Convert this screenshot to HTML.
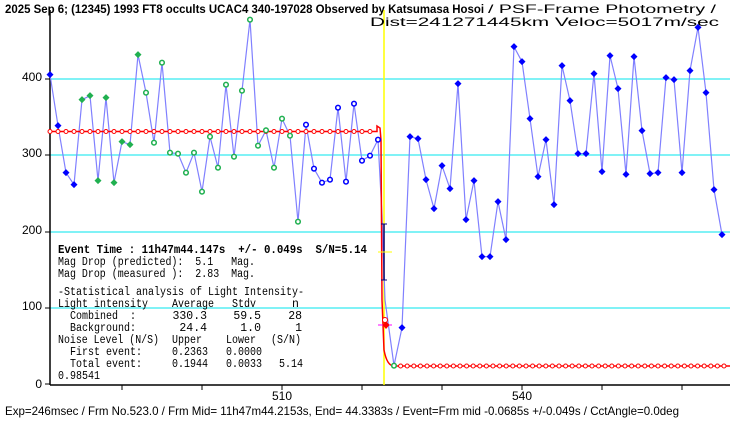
<!DOCTYPE html>
<html><head><meta charset="utf-8"><style>
html,body{margin:0;padding:0;background:#fff;}
svg{display:block;}
text{font-family:"Liberation Sans","Noto Sans CJK JP",sans-serif;font-size:12px;fill:#000;}
.m{font-family:"Liberation Mono",monospace;font-size:11.5px;}
</style></head><body>
<svg id="s" width="740" height="425" viewBox="0 0 740 425" xmlns="http://www.w3.org/2000/svg">
<rect width="740" height="425" fill="#fff"/>
<g stroke="#00e5ee" stroke-width="1">
<line x1="50" y1="79" x2="730" y2="79"/>
<line x1="50" y1="155" x2="730" y2="155"/>
<line x1="50" y1="232" x2="730" y2="232"/>
<line x1="50" y1="308" x2="730" y2="308"/>
</g>
<g stroke="#000" stroke-width="1.5">
<line x1="50" y1="10" x2="50" y2="385"/>
<line x1="50" y1="385" x2="730" y2="385"/>
</g>
<g stroke="#000" stroke-width="1">
<line x1="45" y1="79" x2="50" y2="79"/><line x1="45" y1="155" x2="50" y2="155"/>
<line x1="45" y1="232" x2="50" y2="232"/><line x1="45" y1="308" x2="50" y2="308"/>
<line x1="45" y1="384" x2="50" y2="384"/>
<line x1="122" y1="385" x2="122" y2="390"/><line x1="202" y1="385" x2="202" y2="390"/>
<line x1="282" y1="385" x2="282" y2="390"/><line x1="362" y1="385" x2="362" y2="390"/>
<line x1="442" y1="385" x2="442" y2="390"/><line x1="522" y1="385" x2="522" y2="390"/>
<line x1="602" y1="385" x2="602" y2="390"/><line x1="682" y1="385" x2="682" y2="390"/>
</g>
<g text-anchor="end">
<text x="42" y="81">400</text><text x="42" y="157">300</text>
<text x="42" y="234">200</text><text x="42" y="310">100</text><text x="42" y="388">0</text>
</g>
<text x="282" y="400" text-anchor="middle">510</text>
<text x="522" y="400" text-anchor="middle">540</text>
<line x1="384" y1="10" x2="384" y2="385" stroke="#ffff00" stroke-width="1.5"/>
<g id="d"></g>
<text x="5" y="13" font-weight="bold" font-size="13" textLength="479" lengthAdjust="spacingAndGlyphs">2025 Sep 6; (12345) 1993 FT8 occults UCAC4 340-197028 Observed by Katsumasa Hosoi</text>
<text x="488" y="13" font-size="12" textLength="228" lengthAdjust="spacingAndGlyphs">/ PSF-Frame Photometry /</text>
<text x="370" y="26" font-size="12" textLength="349" lengthAdjust="spacingAndGlyphs">Dist=241271445km Veloc=5017m/sec</text>
<text x="5" y="415" textLength="674" lengthAdjust="spacingAndGlyphs">Exp=246msec / Frm No.523.0 / Frm Mid= 11h47m44.2153s,  End= 44.3383s / Event=Frm mid -0.0685s +/-0.049s / CctAngle=0.0deg</text>
<text class="m" x="58" y="253" font-weight="bold" textLength="309" lengthAdjust="spacingAndGlyphs" xml:space="preserve">Event Time : 11h47m44.147s  +/- 0.049s  S/N=5.14</text>
<text class="m" x="58" y="265" textLength="197" lengthAdjust="spacingAndGlyphs" xml:space="preserve">Mag Drop (predicted):  5.1   Mag.</text>
<text class="m" x="58" y="277" textLength="197" lengthAdjust="spacingAndGlyphs" xml:space="preserve">Mag Drop (measured ):  2.83  Mag.</text>
<text class="m" x="58" y="295" textLength="246" lengthAdjust="spacingAndGlyphs">-Statistical analysis of Light Intensity-</text>
<text class="m" x="58" y="307" textLength="90" lengthAdjust="spacingAndGlyphs">Light intensity</text>
<text class="m" x="172" y="307" textLength="42" lengthAdjust="spacingAndGlyphs">Average</text><text class="m" x="232" y="307" textLength="24" lengthAdjust="spacingAndGlyphs">Stdv</text><text class="m" x="292" y="307">n</text>
<text class="m" x="70" y="319" textLength="66" lengthAdjust="spacingAndGlyphs" xml:space="preserve">Combined  :</text>
<text class="m" x="207" y="319" text-anchor="end">330.3</text><text class="m" x="261" y="319" text-anchor="end">59.5</text><text class="m" x="302" y="319" text-anchor="end">28</text>
<text class="m" x="70" y="331" textLength="66" lengthAdjust="spacingAndGlyphs">Background:</text>
<text class="m" x="207" y="331" text-anchor="end">24.4</text><text class="m" x="261" y="331" text-anchor="end">1.0</text><text class="m" x="302" y="331" text-anchor="end">1</text>
<text class="m" x="58" y="343" textLength="101" lengthAdjust="spacingAndGlyphs">Noise Level (N/S)</text>
<text class="m" x="172" y="343" textLength="30" lengthAdjust="spacingAndGlyphs">Upper</text><text class="m" x="226" y="343" textLength="30" lengthAdjust="spacingAndGlyphs">Lower</text><text class="m" x="271" y="343" textLength="30" lengthAdjust="spacingAndGlyphs">(S/N)</text>
<text class="m" x="70" y="355" textLength="72" lengthAdjust="spacingAndGlyphs">First event:</text>
<text class="m" x="172" y="355" textLength="36" lengthAdjust="spacingAndGlyphs">0.2363</text><text class="m" x="226" y="355" textLength="36" lengthAdjust="spacingAndGlyphs">0.0000</text>
<text class="m" x="70" y="367" textLength="72" lengthAdjust="spacingAndGlyphs">Total event:</text>
<text class="m" x="172" y="367" textLength="36" lengthAdjust="spacingAndGlyphs">0.1944</text><text class="m" x="226" y="367" textLength="36" lengthAdjust="spacingAndGlyphs">0.0033</text><text class="m" x="279" y="367" textLength="24" lengthAdjust="spacingAndGlyphs">5.14</text>
<text class="m" x="58" y="379" textLength="42" lengthAdjust="spacingAndGlyphs">0.98541</text>
</svg>
<script>
var NS="http://www.w3.org/2000/svg",g=document.getElementById("d");
function el(t,a){var e=document.createElementNS(NS,t);for(var k in a)e.setAttribute(k,a[k]);g.appendChild(e);return e;}
var L=[194,347,488,524,269,257,512,263,518,395,404,134,248,398,158,428,431,488,428,545,380,473,224,440,242,29,407,361,473,326,377,635,344,476,518,509,293,515,281,452,437,389];
var R=[1037,923,350,356,479,566,437,506,191,599,482,710,710,545,659,80,125,296,470,359,554,137,242,401,401,161,455,107,206,463,110,332,461,458,173,179,458,152,22,218,509,644];
var pts=[];
L.forEach(function(v,i){pts.push([50+8*i,10+v/3]);});
var lp=[[382,215],[385,300]];
R.forEach(function(v,i){pts.push([394+8*i,20+v/3]);});
var d="";pts.slice(0,L.length).forEach(function(p,i){d+=(i?"L":"M")+p[0]+" "+p[1];});
lp.forEach(function(p){d+="L"+p[0]+" "+p[1];});
pts.slice(L.length).forEach(function(p){d+="L"+p[0]+" "+p[1];});
el("path",{d:d,fill:"none",stroke:"#8080ff","stroke-width":1.2});
var y1=131.5,y2=366;
el("path",{d:"M50 "+y1+"L377 "+y1+"L377 126L380 128L381 140L382 300L384 350Q387 366 394 "+y2+"L730 "+y2,fill:"none",stroke:"#ff0000","stroke-width":1.5});
for(var x=50;x<=370;x+=8)el("circle",{cx:x,cy:y1,r:2,fill:"#fff",stroke:"#ff0000","stroke-width":1});
for(var x=394;x<=730;x+=6.6)el("circle",{cx:x,cy:y2,r:2,fill:"#fff",stroke:"#ff0000","stroke-width":1});
el("line",{x1:384,y1:224,x2:384,y2:280,stroke:"#000080","stroke-width":1.5});
[224,252,280].forEach(function(y){el("line",{x1:381,y1:y,x2:387,y2:y,stroke:"#000080","stroke-width":1});});
el("line",{x1:378,y1:252,x2:392,y2:252,stroke:"#ffff00","stroke-width":1});
el("line",{x1:378,y1:325,x2:392,y2:325,stroke:"#ff00ff","stroke-width":1});
el("path",{d:"M386 321L389.5 325L386 329L382.5 325Z",fill:"#ff0000"});
el("circle",{cx:385,cy:320,r:2.5,fill:"#fff",stroke:"#ff0000"});
function dia(x,y,c){el("path",{d:"M"+x+" "+(y-3.5)+"L"+(x+3.5)+" "+y+"L"+x+" "+(y+3.5)+"L"+(x-3.5)+" "+y+"Z",fill:c});}
function ring(x,y,c){el("circle",{cx:x,cy:y,r:2.3,fill:"#fff",stroke:c,"stroke-width":1.5});}
pts.forEach(function(p,i){
 if(i<4)dia(p[0],p[1],"#0000ff");
 else if(i<12)dia(p[0],p[1],"#20b050");
 else if(i<32)ring(p[0],p[1],"#20b050");
 else if(i<L.length)ring(p[0],p[1],"#0000ff");
 else if(i==L.length)ring(p[0],p[1],"#20b050");
 else dia(p[0],p[1],"#0000ff");
});
</script>
</body></html>
